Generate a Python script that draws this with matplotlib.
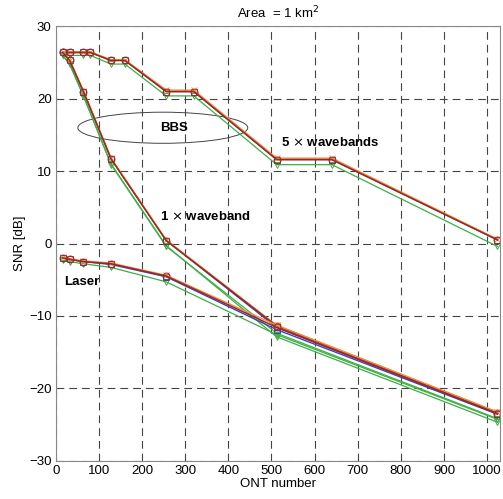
#!/usr/bin/env python3

import matplotlib
matplotlib.use('Agg')
import matplotlib.pyplot as plt
import matplotlib.ticker as ticker
from matplotlib.patches import Ellipse

plt.rcParams['font.family'] = ['Liberation Sans', 'DejaVu Sans']

# ONT counts
ont_5wb = [16, 32, 64, 80, 128, 160, 256, 320, 512, 640, 1024]
ont_1wb = [16, 32, 64, 128, 256, 512, 1024]
ont_laser = [16, 32, 64, 128, 256, 512, 1024]

# 5 x wavebands
wb5_blue = [26.4, 26.4, 26.4, 26.4, 25.3, 25.3, 21.0, 21.0, 11.6, 11.6, 0.5]
wb5_red = [26.4, 26.4, 26.4, 26.4, 25.3, 25.3, 21.0, 21.0, 11.6, 11.6, 0.5]
wb5_orange = [26.5, 26.5, 26.5, 26.5, 25.4, 25.4, 21.2, 21.2, 11.8, 11.8, 0.6]
wb5_green = [26.0, 26.0, 26.0, 26.0, 24.8, 24.8, 20.4, 20.4, 10.9, 10.9, -0.4]

# 1 x waveband
wb1_blue = [26.4, 25.3, 21.0, 11.7, 0.4, -11.6, -23.5]
wb1_red = [26.4, 25.3, 21.0, 11.7, 0.4, -11.4, -23.4]
wb1_orange = [26.5, 25.4, 21.1, 11.8, 0.5, -11.3, -23.3]
wb1_green = [26.0, 24.8, 20.4, 10.9, -0.4, -12.4, -24.2]
wb1_green2 = [26.0, 24.8, 20.4, 11.0, -0.3, -12.9, -24.7]

# Laser
laser_blue = [-2.0, -2.2, -2.5, -2.9, -4.6, -11.9, -23.6]
laser_red = [-2.0, -2.2, -2.5, -2.8, -4.5, -11.6, -23.5]
laser_orange = [-1.9, -2.1, -2.4, -2.7, -4.4, -11.3, -23.3]
laser_green = [-2.3, -2.5, -2.8, -3.3, -5.3, -12.6, -24.3]

styles = {
    'blue': dict(color='#4040c8', marker='s', lw=1.0),
    'red': dict(color='#a02818', marker='o', lw=1.1),
    'orange': dict(color='#e8904a', marker='x', lw=1.0),
    'green': dict(color='#3cb043', marker='v', lw=0.9),
}

fig = plt.figure(figsize=(5.03, 4.99), dpi=100)
ax = fig.add_axes([0.111, 0.077, 0.884, 0.870])

def draw(x, y, style):
    s = styles[style]
    ax.plot(x, y, '-', color=s['color'], lw=s['lw'], marker=s['marker'],
            markersize=5, markerfacecolor='none', markeredgewidth=0.7)

for x, series in [(ont_5wb, [(wb5_green, 'green'), (wb5_blue, 'blue'),
                             (wb5_orange, 'orange'), (wb5_red, 'red')]),
                  (ont_1wb, [(wb1_green, 'green'), (wb1_green2, 'green'),
                             (wb1_blue, 'blue'), (wb1_orange, 'orange'),
                             (wb1_red, 'red')]),
                  (ont_laser, [(laser_green, 'green'), (laser_blue, 'blue'),
                               (laser_orange, 'orange'), (laser_red, 'red')])]:
    for y, st in series:
        draw(x, y, st)

# BBS ellipse
ax.add_patch(Ellipse((248, 16), 394, 4.3, fill=False, edgecolor='#444444',
                     lw=0.7))

ax.text(241, 16, 'BBS', fontsize=9.5, fontweight='bold', va='center')
ax.text(523, 14, '5 $\\times$ wavebands', fontsize=9.5, fontweight='bold', va='center')
ax.text(241, 3.7, '1 $\\times$ waveband', fontsize=9.5, fontweight='bold', va='center')
ax.text(19, -5.3, 'Laser', fontsize=9.5, fontweight='bold', va='center')

ax.set_xlim(0, 1031)
ax.set_ylim(-30, 30)
ax.xaxis.set_major_locator(ticker.MultipleLocator(100))
ax.yaxis.set_major_locator(ticker.MultipleLocator(10))
ax.tick_params(labelsize=9.5, length=0, pad=3)
ax.grid(True, color='#444444', ls=(0, (7, 4.5)), lw=0.8)
for sp in ax.spines.values():
    sp.set_color('#888888')

ax.set_xlabel('ONT number', fontsize=9.5, labelpad=1)
ax.set_ylabel('SNR [dB]', fontsize=9.5, labelpad=2)
ax.set_title('Area  = 1 km$^2$', fontsize=9.5, pad=6)

fig.savefig('out.png', dpi=100)
